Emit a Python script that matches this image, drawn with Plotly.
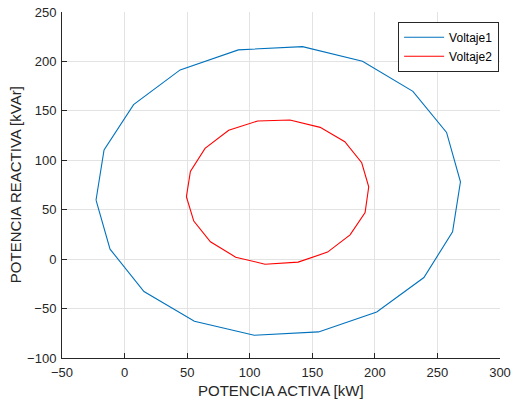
import plotly.graph_objects as go

# Active / reactive power loci for the two voltage cases
p1_kw = [-22.8, -16.4, 7.2, 44.4, 90.9, 142.2, 190.1, 230.4, 257.3, 268.4,
         262.1, 239.2, 201.5, 155.0, 103.6, 55.8, 15.5, -11.6]
q1_kvar = [59.8, 110.4, 156.3, 191.4, 211.7, 215.0, 200.1, 169.7, 128.2, 78.3,
           27.6, -18.6, -53.4, -73.6, -77.0, -62.8, -32.8, 10.1]

p2_kw = [49.4, 52.6, 64.3, 83.2, 106.4, 132.1, 156.3, 176.0, 189.5, 195.1,
         192.2, 180.2, 162.2, 138.7, 112.2, 88.8, 68.6, 55.3]
q2_kvar = [63.1, 88.7, 112.0, 130.3, 139.8, 140.8, 133.3, 118.8, 97.5, 73.2,
           47.2, 24.6, 7.1, -3.0, -5.1, 2.0, 17.5, 38.5]

series_names = ["Voltaje1", "Voltaje2"]
series_colors = ["#0072BD", "#FF0000"]

x_range = [-50, 300]
y_range = [-100, 250]
x_title = "POTENCIA ACTIVA [kW]"
y_title = "POTENCIA REACTIVA [kVAr]"

font_family = "Arial, Liberation Sans, Helvetica, sans-serif"
text_color = "#262626"

fig = go.Figure()
for name, color, xs, ys in zip(series_names, series_colors,
                               [p1_kw, p2_kw], [q1_kvar, q2_kvar]):
    # close each curve back on its first point
    fig.add_trace(go.Scatter(
        x=xs + xs[:1], y=ys + ys[:1], mode="lines", name=name,
        line=dict(color=color, width=1.1),
    ))

axis_common = dict(
    showgrid=True, gridcolor="#e3e3e3", gridwidth=1,
    zeroline=False, showline=True, linecolor=text_color, linewidth=1,
    mirror=False, ticks="inside", ticklen=5, tickcolor=text_color,
    tickfont=dict(family=font_family, size=13, color=text_color),
    dtick=50, automargin=False, ticklabelstandoff=2,
)

title_font = dict(family=font_family, size=15, color=text_color)

fig.update_layout(
    width=512, height=405,
    margin=dict(l=62, r=12, t=12, b=47),
    paper_bgcolor="white", plot_bgcolor="white",
    font=dict(family=font_family, color=text_color),
    xaxis=dict(range=x_range, tick0=-50, **axis_common),
    yaxis=dict(range=y_range, tick0=-100, **axis_common),
    legend=dict(
        x=0.998, y=0.972, xanchor="right", yanchor="top",
        bgcolor="white", bordercolor="#262626", borderwidth=1,
        font=dict(family=font_family, size=12, color="#000000"),
        tracegroupgap=0, itemwidth=40,
    ),
    showlegend=True,
    annotations=[
        dict(text=x_title, xref="paper", yref="paper", x=0.5, y=-0.095,
             xanchor="center", yanchor="middle", showarrow=False, font=title_font),
        dict(text=y_title, xref="paper", yref="paper", x=-0.107, y=0.5,
             xanchor="center", yanchor="middle", textangle=-90,
             showarrow=False, font=title_font),
    ],
)

fig.write_html("out.html")
